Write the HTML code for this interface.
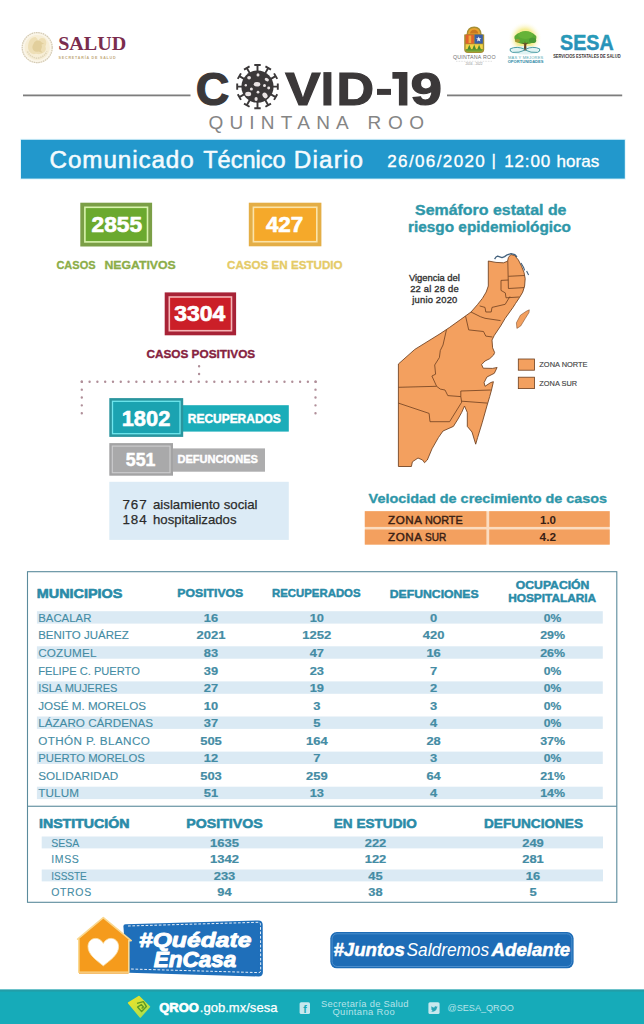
<!DOCTYPE html>
<html lang="es"><head><meta charset="utf-8"><title>COVID-19 Quintana Roo - Comunicado Técnico Diario</title>
<style>
html,body{margin:0;padding:0;background:#fff;}
body{width:644px;height:1024px;overflow:hidden;font-family:'Liberation Sans',sans-serif;}
svg{display:block;}
svg text{font-family:'Liberation Sans',sans-serif;white-space:pre;}
</style></head><body>
<svg width="644" height="1024" viewBox="0 0 644 1024">
<rect width="644" height="1024" fill="#ffffff"/>
<!-- header -->
<g id="seal"><circle cx="37.2" cy="47.6" r="15.6" fill="#faf5e8"/><circle cx="37.2" cy="47.6" r="15" fill="none" stroke="#d3cab5" stroke-width="1.2" stroke-dasharray="1.6 0.7"/><circle cx="37.2" cy="47.6" r="12.6" fill="#f7eed6"/><path d="M28.6 43 Q30 37.6 35.4 37 Q38 38.4 38 41 Q40 36.6 44.6 38.4 Q47.6 42 45.4 46.4 Q47 50 43.6 52.6 Q40 55.2 36 53.8 Q32 55 29.6 52 Q27 48 28.6 43Z" fill="#eedfb6"/><path d="M36.6 40.6 Q40 39.8 41.8 42.4 L44.2 43.6 L41.6 44.6 Q42.8 47.6 40.8 50.2 L42.6 53 L38.6 51.6 Q35.6 52.4 33.6 50.4 Q31.4 47.6 33.2 44.6 Q34 41.8 36.6 40.6Z" fill="#e2cf9c"/><path d="M27.4 51.4 Q30.4 57.6 37.2 58.2 Q44 57.6 47 51.4" fill="none" stroke="#e0d6ba" stroke-width="1.6" stroke-dasharray="1.4 0.8"/></g>
<text x="58.2" y="49.8" font-size="19.2" fill="#7a2c4e" font-weight="bold" textLength="68" lengthAdjust="spacingAndGlyphs" style="font-family:'Liberation Serif', serif">SALUD</text>
<text x="58.6" y="58.8" font-size="3.6" fill="#bfa97a" font-weight="bold" textLength="57" lengthAdjust="spacing">SECRETARÍA DE SALUD</text>
<rect x="23" y="94.5" width="167.5" height="1.8" fill="#7d7d7d"/>
<rect x="447" y="94.5" width="175.2" height="1.8" fill="#7d7d7d"/>
<!-- title -->
<text transform="translate(195.83 104.9) scale(0.9945 1)" font-size="46.8" font-weight="bold" fill="#3b3839" stroke="#3b3839" stroke-width="1.2" stroke-linejoin="miter">C</text>
<text transform="translate(285.16 104.9) scale(1.1287 1)" font-size="46.8" font-weight="bold" fill="#3b3839" stroke="#3b3839" stroke-width="1.2" stroke-linejoin="miter">V</text>
<text transform="translate(336.42 104.9) scale(1.1113 1)" font-size="46.8" font-weight="bold" fill="#3b3839" stroke="#3b3839" stroke-width="1.2" stroke-linejoin="miter">D</text>
<text transform="translate(410.39 104.9) scale(1.2105 1)" font-size="46.8" font-weight="bold" fill="#3b3839" stroke="#3b3839" stroke-width="1.2" stroke-linejoin="miter">9</text>
<rect x="323.4" y="72.1" width="8" height="33.4" fill="#3b3839"/>
<rect x="377" y="88.9" width="14" height="6" fill="#3b3839"/>
<polygon points="392.4,72.1 407.4,72.1 407.4,105.5 398.9,105.5 398.9,78.8 392.4,78.8" fill="#3b3839"/>
<g id="virus"><path d="M257.50 71.60 L257.50 65.00 M260.70 65.00 L254.30 65.00" stroke="#3b3839" stroke-width="1.9" fill="none"/><path d="M265.00 73.61 L268.21 68.04 M270.98 69.64 L265.44 66.44" stroke="#3b3839" stroke-width="1.9" fill="none"/><path d="M270.49 79.10 L275.64 76.12 M277.24 78.90 L274.04 73.35" stroke="#3b3839" stroke-width="1.9" fill="none"/><path d="M272.50 86.60 L277.80 86.60 M277.80 89.80 L277.80 83.40" stroke="#3b3839" stroke-width="1.9" fill="none"/><path d="M270.49 94.10 L275.64 97.07 M274.04 99.85 L277.24 94.30" stroke="#3b3839" stroke-width="1.9" fill="none"/><path d="M265.00 99.59 L268.21 105.16 M265.44 106.76 L270.98 103.56" stroke="#3b3839" stroke-width="1.9" fill="none"/><path d="M257.50 101.60 L257.50 108.20 M254.30 108.20 L260.70 108.20" stroke="#3b3839" stroke-width="1.9" fill="none"/><path d="M250.00 99.59 L246.79 105.16 M244.02 103.56 L249.56 106.76" stroke="#3b3839" stroke-width="1.9" fill="none"/><path d="M244.51 94.10 L239.36 97.07 M237.76 94.30 L240.96 99.85" stroke="#3b3839" stroke-width="1.9" fill="none"/><path d="M242.50 86.60 L237.20 86.60 M237.20 83.40 L237.20 89.80" stroke="#3b3839" stroke-width="1.9" fill="none"/><path d="M244.51 79.10 L239.36 76.12 M240.96 73.35 L237.76 78.90" stroke="#3b3839" stroke-width="1.9" fill="none"/><path d="M250.00 73.61 L246.79 68.04 M249.56 66.44 L244.02 69.64" stroke="#3b3839" stroke-width="1.9" fill="none"/><circle cx="257.5" cy="86.6" r="16.1" fill="#3b3839"/><ellipse cx="257" cy="84.2" rx="3.3" ry="2.3" fill="#e9e3e3" transform="rotate(0 257 84.2)"/><ellipse cx="249.1" cy="77.7" rx="1.9" ry="1.7" fill="#e9e3e3" transform="rotate(0 249.1 77.7)"/><ellipse cx="258" cy="74.9" rx="1.5" ry="1.6" fill="#e9e3e3" transform="rotate(0 258 74.9)"/><ellipse cx="266.8" cy="79.6" rx="2.2" ry="1.6" fill="#e9e3e3" transform="rotate(25 266.8 79.6)"/><ellipse cx="245.8" cy="85.2" rx="1.2" ry="1.3" fill="#e9e3e3" transform="rotate(0 245.8 85.2)"/><ellipse cx="251.4" cy="88.9" rx="1.5" ry="1.5" fill="#e9e3e3" transform="rotate(0 251.4 88.9)"/><ellipse cx="264.5" cy="85.6" rx="1.5" ry="1.5" fill="#e9e3e3" transform="rotate(0 264.5 85.6)"/><ellipse cx="268.7" cy="88" rx="1.5" ry="1.4" fill="#e9e3e3" transform="rotate(0 268.7 88)"/><ellipse cx="258" cy="92.2" rx="1.4" ry="1.4" fill="#e9e3e3" transform="rotate(0 258 92.2)"/><ellipse cx="248.2" cy="94" rx="3" ry="2.2" fill="#e9e3e3" transform="rotate(0 248.2 94)"/><ellipse cx="265" cy="95.4" rx="2.4" ry="3" fill="#e9e3e3" transform="rotate(-30 265 95.4)"/><ellipse cx="256.1" cy="99.1" rx="1.6" ry="2" fill="#e9e3e3" transform="rotate(0 256.1 99.1)"/></g>
<text x="208.4" y="128.5" font-size="19" fill="#858585" textLength="140.4" lengthAdjust="spacing">QUINTANA</text>
<text x="367.6" y="128.5" font-size="19" fill="#858585" textLength="56.4" lengthAdjust="spacing">ROO</text>
<!-- banner -->
<rect x="20" y="138.8" width="605.8" height="40.8" fill="#e2f6fc"/>
<rect x="21" y="139.8" width="603.8" height="38.8" fill="#2298cc"/>
<text x="49.6" y="167.9" font-size="24.2" fill="#f4fbfe" textLength="144" lengthAdjust="spacing" stroke="#f4fbfe" stroke-width="0.55" stroke-linejoin="round">Comunicado</text>
<text x="203.2" y="167.9" font-size="24.2" fill="#f4fbfe" textLength="82.5" lengthAdjust="spacingAndGlyphs" stroke="#f4fbfe" stroke-width="0.55" stroke-linejoin="round">Técnico</text>
<text x="293.8" y="167.9" font-size="24.2" fill="#f4fbfe" textLength="69.2" lengthAdjust="spacing" stroke="#f4fbfe" stroke-width="0.55" stroke-linejoin="round">Diario</text>
<text x="387.2" y="166.5" font-size="17" fill="#ffffff" textLength="97.6" lengthAdjust="spacing" stroke="#fff" stroke-width="0.35" stroke-linejoin="round">26/06/2020</text>
<text x="491.6" y="166" font-size="17" fill="#ffffff" stroke="#fff" stroke-width="0.3" stroke-linejoin="round">|</text>
<text x="504.2" y="166.5" font-size="17" fill="#ffffff" textLength="46" lengthAdjust="spacing" stroke="#fff" stroke-width="0.35" stroke-linejoin="round">12:00</text>
<text x="556.6" y="166.5" font-size="17" fill="#ffffff" textLength="42.6" lengthAdjust="spacing" stroke="#fff" stroke-width="0.35" stroke-linejoin="round">horas</text>
<!-- stats -->
<rect x="80.3" y="202.7" width="71.8" height="43.8" fill="#7b9f47"/>
<rect x="84.89999999999999" y="207.29999999999998" width="62.6" height="34.6" fill="#6ba92f" stroke="#d9f3ad" stroke-opacity="1" stroke-width="1.6"/>
<text x="116.8" y="231.5" font-size="22" fill="#ffffff" font-weight="bold" text-anchor="middle" textLength="50.4" lengthAdjust="spacingAndGlyphs" stroke="#fff" stroke-width="0.7" stroke-linejoin="round">2855</text>
<text x="56.4" y="268.6" font-size="11.6" fill="#8cad48" font-weight="bold" textLength="39.2" lengthAdjust="spacingAndGlyphs" stroke="#8cad48" stroke-width="0.3" stroke-linejoin="round">CASOS</text>
<text x="104.4" y="268.6" font-size="11.6" fill="#8cad48" font-weight="bold" textLength="71.4" lengthAdjust="spacingAndGlyphs" stroke="#8cad48" stroke-width="0.3" stroke-linejoin="round">NEGATIVOS</text>
<rect x="248.8" y="202.7" width="72.6" height="43.6" fill="#e4ae46"/>
<rect x="253.4" y="207.29999999999998" width="63.4" height="34.4" fill="#f5a92a" stroke="#fbe3a8" stroke-opacity="1" stroke-width="1.6"/>
<text x="284.6" y="231.5" font-size="22" fill="#ffffff" font-weight="bold" text-anchor="middle" textLength="37.4" lengthAdjust="spacingAndGlyphs" stroke="#fff" stroke-width="0.7" stroke-linejoin="round">427</text>
<text x="227" y="268.8" font-size="11.4" fill="#e5cb68" font-weight="bold" textLength="115.6" lengthAdjust="spacingAndGlyphs" stroke="#e5cb68" stroke-width="0.3" stroke-linejoin="round">CASOS EN ESTUDIO</text>
<rect x="164.7" y="292.4" width="71.4" height="42.9" fill="#a82337"/>
<rect x="169.29999999999998" y="297.0" width="62.2" height="33.7" fill="#cb1f28" stroke="#f6b4b6" stroke-opacity="1" stroke-width="1.6"/>
<text x="199.8" y="321" font-size="22.5" fill="#ffffff" font-weight="bold" text-anchor="middle" textLength="51" lengthAdjust="spacingAndGlyphs" stroke="#fff" stroke-width="0.7" stroke-linejoin="round">3304</text>
<text x="146.4" y="358.2" font-size="11.8" fill="#86233f" font-weight="bold" textLength="108.8" lengthAdjust="spacingAndGlyphs" stroke="#86233f" stroke-width="0.35" stroke-linejoin="round">CASOS POSITIVOS</text>
<g stroke="#b08f99" stroke-width="2.4" stroke-linecap="round" fill="none"><path d="M81.8 381.8 H315.7" stroke-dasharray="0 7.796"/><path d="M81.8 381.8 V414" stroke-dasharray="0 7.85"/><path d="M315.5 381.8 V414" stroke-dasharray="0 7.85"/><path d="M199.1 366.2 V374.6" stroke-dasharray="0 7.8"/></g>
<rect x="183" y="405.2" width="105.8" height="26.4" fill="#1badb9"/>
<rect x="109.3" y="398.1" width="73.9" height="38.8" fill="#2a959e"/>
<rect x="112.5" y="401.3" width="67.5" height="32.4" fill="#1ba3b1" stroke="#6fe6ee" stroke-opacity="1" stroke-width="1.3"/>
<text x="146" y="426" font-size="22.5" fill="#ffffff" font-weight="bold" text-anchor="middle" textLength="48.6" lengthAdjust="spacingAndGlyphs" stroke="#fff" stroke-width="0.6" stroke-linejoin="round">1802</text>
<text x="187.8" y="423" font-size="12.4" fill="#ffffff" font-weight="bold" textLength="93" lengthAdjust="spacingAndGlyphs" stroke="#ffffff" stroke-width="0.45" stroke-linejoin="round">RECUPERADOS</text>
<rect x="173" y="448.4" width="92" height="23.3" fill="#adadae"/>
<rect x="109.3" y="443.1" width="63.7" height="32.6" fill="#a3a3a4"/>
<rect x="112.3" y="446.1" width="57.7" height="26.6" fill="#a9a9aa" stroke="#cbcbcc" stroke-opacity="1" stroke-width="1.2"/>
<text x="140.6" y="465.8" font-size="18" fill="#ffffff" font-weight="bold" text-anchor="middle" textLength="29.6" lengthAdjust="spacingAndGlyphs" stroke="#fff" stroke-width="0.5" stroke-linejoin="round">551</text>
<text x="177.4" y="462.7" font-size="10.8" fill="#ffffff" font-weight="bold" textLength="80.6" lengthAdjust="spacingAndGlyphs" stroke="#ffffff" stroke-width="0.4" stroke-linejoin="round">DEFUNCIONES</text>
<rect x="109.3" y="481.8" width="179.5" height="58.1" fill="#dcebf6"/>
<text x="122.6" y="508.8" font-size="13.4" fill="#2b2b2b" textLength="24" lengthAdjust="spacing" stroke="#2b2b2b" stroke-width="0.25" stroke-linejoin="round">767</text>
<text x="153" y="508.8" font-size="13.4" fill="#2b2b2b" textLength="104.5" lengthAdjust="spacingAndGlyphs" stroke="#2b2b2b" stroke-width="0.25" stroke-linejoin="round">aislamiento social</text>
<text x="122.6" y="524.3" font-size="13.4" fill="#2b2b2b" textLength="24" lengthAdjust="spacing" stroke="#2b2b2b" stroke-width="0.25" stroke-linejoin="round">184</text>
<text x="153" y="524.3" font-size="13.4" fill="#2b2b2b" textLength="83.5" lengthAdjust="spacingAndGlyphs" stroke="#2b2b2b" stroke-width="0.25" stroke-linejoin="round">hospitalizados</text>
<!-- semaforo -->
<text x="415" y="214.6" font-size="14.2" fill="#2f97a9" font-weight="bold" textLength="151.5" lengthAdjust="spacingAndGlyphs" stroke="#2f97a9" stroke-width="0.35" stroke-linejoin="round">Semáforo estatal de</text>
<text x="408" y="231.6" font-size="14.2" fill="#2f97a9" font-weight="bold" textLength="163" lengthAdjust="spacingAndGlyphs" stroke="#2f97a9" stroke-width="0.35" stroke-linejoin="round">riesgo epidemiológico</text>
<text x="434.4" y="281" font-size="9.4" fill="#333333" text-anchor="middle" textLength="51" lengthAdjust="spacingAndGlyphs" stroke="#333333" stroke-width="0.35" stroke-linejoin="round">Vigencia del</text>
<text x="434.4" y="292.3" font-size="9.4" fill="#333333" text-anchor="middle" textLength="48.5" lengthAdjust="spacing" stroke="#333333" stroke-width="0.35" stroke-linejoin="round">22 al 28 de</text>
<text x="434.8" y="303.2" font-size="9.4" fill="#333333" text-anchor="middle" textLength="45" lengthAdjust="spacing" stroke="#333333" stroke-width="0.35" stroke-linejoin="round">junio 2020</text>
<!-- map -->
<path d="M488.3 261 L496 262.4 L503.5 262.8 L507.6 261.2 L508.4 257.5 L510.9 254.5 L514.7 255.6 L518.4 260 L521.5 266.1 L524 272.4 L525.2 278.6 L524.6 286 L522.7 292.2 L519.6 297.4 L515.5 303.5 L513 307.4 L509 313 L505.2 318.3 L500.6 326 L494.3 335.4 L492 340 L492.6 347.8 L494.6 352.5 L493.6 355 L489.7 358.7 L485 361 L481.6 364.6 L483.2 368.2 L492.5 368.4 L497.1 367.5 L494.3 373.3 L486.9 377 L484.1 382.6 L485 386.3 L490.6 382.6 L493.4 381.7 L491.5 390 L489.7 396.6 L486.9 406 L482.2 422.7 L477.6 437.6 L475.7 444.2 L472 432 L467.3 426.4 L467.3 412.4 L464.5 406 L461.7 412.4 L458 419 L453.4 426.4 L443 431 L438.4 437.6 L432 448.8 L427.3 460 L424.5 462.7 L422.6 460 L418 458 L412.4 461.8 L411.4 466.5 L398.4 466.5 L398.4 364 L414.8 349.4 L440 333.8 L449.3 327.6 L460.2 319.8 L471 312 L477.4 304.7 L482.4 298.4 L486.2 292 L488.3 286Z" fill="#f3a05f" stroke="#6d3f1f" stroke-width="0.85" stroke-linejoin="round"/>
<path d="M529.3 309.8 L526.2 311.3 L520.4 315.2 L516.4 322.8 L516.9 328.4 L520.7 326 L525.4 318.3 L529 312.5Z" fill="#f3a05f" stroke="#6d3f1f" stroke-width="0.5"/>
<path d="M494.6 259.2 L496 257 L497.6 256.2 L502 257.6 L504.6 256.6 L507.2 254.8 L511 253.7 L514.9 254.6 L517 257" fill="none" stroke="#41607c" stroke-width="1.3" stroke-linejoin="round"/>
<path d="M521 263 L523.6 267.6 L524.6 270.4 M526.6 271 L528.6 275" fill="none" stroke="#41607c" stroke-width="1.1"/>
<path d="M507.8 261.2 L508.4 288.5 M508.4 276.3 L524.6 275.5 M508.4 280 L501 280.4 L501 290.4 L505.3 292.9 L506 297.8 M508.4 288.5 L524.2 287.6 M506 297.8 L519.4 297 M509.9 296.5 L505.2 304.3 L492 307.4 L491.2 312 L485.8 312 L485 307.4 L479.6 305.9 M471 312 L480.4 316.7 L485 318.3 L500.6 320.6 M465.6 316.2 L468.7 329.9 L483.5 331.5 L485.8 336.1 L492.4 337 M446.4 330 L443 345 L440.3 350.5 L439.4 357.5 L434.7 365 L435.6 374.2 L431.9 376 L436.6 386.3 L440.3 389.1 L445 390 L447.8 395.6 L460.8 396.6 L460.8 391 L490.8 390 M398.4 387.3 L436.6 386.3 M398.4 403.1 L429.1 413.4 L430 421.7 L449.6 421.7 L461.7 402.2 L460.8 396.6 M461.7 401.2 L487.4 403.1" fill="none" stroke="#6d3f1f" stroke-width="0.8" stroke-linejoin="round"/>
<rect x="518.3" y="359" width="16.2" height="11.2" fill="#f3a05f" stroke="#6d3f1f" stroke-width="0.8"/>
<rect x="518.3" y="377.2" width="16.2" height="11.4" fill="#f3a05f" stroke="#6d3f1f" stroke-width="0.8"/>
<text x="539.3" y="367.4" font-size="7.6" fill="#444444" textLength="48.3" lengthAdjust="spacingAndGlyphs" stroke="#444" stroke-width="0.15" stroke-linejoin="round">ZONA NORTE</text>
<text x="539.3" y="385.6" font-size="7.6" fill="#444444" textLength="37.8" lengthAdjust="spacingAndGlyphs" stroke="#444" stroke-width="0.15" stroke-linejoin="round">ZONA SUR</text>
<!-- velocidad -->
<text x="368.6" y="502.8" font-size="13.6" fill="#2f97a9" font-weight="bold" textLength="238.5" lengthAdjust="spacingAndGlyphs" stroke="#2f97a9" stroke-width="0.35" stroke-linejoin="round">Velocidad de crecimiento de casos</text>
<rect x="364.8" y="511.2" width="244.9" height="33.4" fill="#fbdcc0"/>
<rect x="364.8" y="511.2" width="121.6" height="15.7" fill="#f3a05f"/>
<rect x="489.2" y="511.2" width="120.5" height="15.7" fill="#f3a05f"/>
<rect x="364.8" y="529.5" width="121.6" height="15.1" fill="#f3a05f"/>
<rect x="489.2" y="529.5" width="120.5" height="15.1" fill="#f3a05f"/>
<text x="388" y="523.5" font-size="11.6" fill="#3a2014" textLength="34" lengthAdjust="spacing" stroke="#3a2014" stroke-width="0.45" stroke-linejoin="round">ZONA</text>
<text x="425" y="523.5" font-size="11.6" fill="#3a2014" textLength="37.6" lengthAdjust="spacingAndGlyphs" stroke="#3a2014" stroke-width="0.45" stroke-linejoin="round">NORTE</text>
<text x="388" y="541.4" font-size="11.6" fill="#3a2014" textLength="34" lengthAdjust="spacing" stroke="#3a2014" stroke-width="0.45" stroke-linejoin="round">ZONA</text>
<text x="425" y="541.4" font-size="11.6" fill="#3a2014" textLength="21.2" lengthAdjust="spacingAndGlyphs" stroke="#3a2014" stroke-width="0.45" stroke-linejoin="round">SUR</text>
<text x="548" y="523.6" font-size="10.8" fill="#3a2014" font-weight="bold" text-anchor="middle" textLength="16" lengthAdjust="spacingAndGlyphs">1.0</text>
<text x="547.8" y="541.3" font-size="10.8" fill="#3a2014" font-weight="bold" text-anchor="middle" textLength="16.4" lengthAdjust="spacingAndGlyphs">4.2</text>
<!-- tables -->
<rect x="27.5" y="571.7" width="589.3" height="330.6" fill="none" stroke="#5b8b9c" stroke-width="1.1"/>
<rect x="27.5" y="805.7" width="589.3" height="1.1" fill="#5b8b9c"/>
<text x="36.8" y="598.2" font-size="13.2" fill="#2a8ba8" font-weight="bold" textLength="85.5" lengthAdjust="spacingAndGlyphs" stroke="#2a8ba8" stroke-width="0.6" stroke-linejoin="round">MUNICIPIOS</text>
<text x="210.3" y="597.3" font-size="11" fill="#2a8ba8" font-weight="bold" text-anchor="middle" textLength="66" lengthAdjust="spacingAndGlyphs" stroke="#2a8ba8" stroke-width="0.45" stroke-linejoin="round">POSITIVOS</text>
<text x="316.3" y="597.3" font-size="11" fill="#2a8ba8" font-weight="bold" text-anchor="middle" textLength="88.5" lengthAdjust="spacingAndGlyphs" stroke="#2a8ba8" stroke-width="0.45" stroke-linejoin="round">RECUPERADOS</text>
<text x="434.2" y="597.8" font-size="11" fill="#2a8ba8" font-weight="bold" text-anchor="middle" textLength="89" lengthAdjust="spacingAndGlyphs" stroke="#2a8ba8" stroke-width="0.45" stroke-linejoin="round">DEFUNCIONES</text>
<text x="552.6" y="588.7" font-size="10.6" fill="#2a8ba8" font-weight="bold" text-anchor="middle" textLength="73.5" lengthAdjust="spacingAndGlyphs" stroke="#2a8ba8" stroke-width="0.45" stroke-linejoin="round">OCUPACIÓN</text>
<text x="552.2" y="601.7" font-size="10.6" fill="#2a8ba8" font-weight="bold" text-anchor="middle" textLength="88" lengthAdjust="spacingAndGlyphs" stroke="#2a8ba8" stroke-width="0.45" stroke-linejoin="round">HOSPITALARIA</text>
<rect x="36.9" y="611.2" width="565.9" height="12.4" fill="#dbeaf4"/>
<text x="38.2" y="621.9" font-size="11.7" fill="#448ca4" textLength="53.2" lengthAdjust="spacingAndGlyphs" stroke="#448ca4" stroke-width="0.12" stroke-linejoin="round">BACALAR</text>
<text x="211" y="621.9" font-size="11.3" fill="#448ca4" font-weight="bold" text-anchor="middle" textLength="14.3" lengthAdjust="spacingAndGlyphs" stroke="#448ca4" stroke-width="0.2" stroke-linejoin="round">16</text>
<text x="316.8" y="621.9" font-size="11.3" fill="#448ca4" font-weight="bold" text-anchor="middle" textLength="14.3" lengthAdjust="spacingAndGlyphs" stroke="#448ca4" stroke-width="0.2" stroke-linejoin="round">10</text>
<text x="433.6" y="621.9" font-size="11.3" fill="#448ca4" font-weight="bold" text-anchor="middle" textLength="7.2" lengthAdjust="spacingAndGlyphs" stroke="#448ca4" stroke-width="0.2" stroke-linejoin="round">0</text>
<text x="552.6" y="621.9" font-size="11.3" fill="#448ca4" font-weight="bold" text-anchor="middle" textLength="17.5" lengthAdjust="spacingAndGlyphs" stroke="#448ca4" stroke-width="0.2" stroke-linejoin="round">0%</text>
<text x="38.2" y="639.4" font-size="11.7" fill="#448ca4" textLength="90.5" lengthAdjust="spacingAndGlyphs" stroke="#448ca4" stroke-width="0.12" stroke-linejoin="round">BENITO JUÁREZ</text>
<text x="211" y="639.4" font-size="11.3" fill="#448ca4" font-weight="bold" text-anchor="middle" textLength="29.0" lengthAdjust="spacingAndGlyphs" stroke="#448ca4" stroke-width="0.2" stroke-linejoin="round">2021</text>
<text x="316.8" y="639.4" font-size="11.3" fill="#448ca4" font-weight="bold" text-anchor="middle" textLength="29.0" lengthAdjust="spacingAndGlyphs" stroke="#448ca4" stroke-width="0.2" stroke-linejoin="round">1252</text>
<text x="433.6" y="639.4" font-size="11.3" fill="#448ca4" font-weight="bold" text-anchor="middle" textLength="21.6" lengthAdjust="spacingAndGlyphs" stroke="#448ca4" stroke-width="0.2" stroke-linejoin="round">420</text>
<text x="552.6" y="639.4" font-size="11.3" fill="#448ca4" font-weight="bold" text-anchor="middle" textLength="24.9" lengthAdjust="spacingAndGlyphs" stroke="#448ca4" stroke-width="0.2" stroke-linejoin="round">29%</text>
<rect x="36.9" y="646.3" width="565.9" height="12.4" fill="#dbeaf4"/>
<text x="38.2" y="657.0" font-size="11.7" fill="#448ca4" textLength="58.2" lengthAdjust="spacing" stroke="#448ca4" stroke-width="0.12" stroke-linejoin="round">COZUMEL</text>
<text x="211" y="657.0" font-size="11.3" fill="#448ca4" font-weight="bold" text-anchor="middle" textLength="14.3" lengthAdjust="spacingAndGlyphs" stroke="#448ca4" stroke-width="0.2" stroke-linejoin="round">83</text>
<text x="316.8" y="657.0" font-size="11.3" fill="#448ca4" font-weight="bold" text-anchor="middle" textLength="14.3" lengthAdjust="spacingAndGlyphs" stroke="#448ca4" stroke-width="0.2" stroke-linejoin="round">47</text>
<text x="433.6" y="657.0" font-size="11.3" fill="#448ca4" font-weight="bold" text-anchor="middle" textLength="14.3" lengthAdjust="spacingAndGlyphs" stroke="#448ca4" stroke-width="0.2" stroke-linejoin="round">16</text>
<text x="552.6" y="657.0" font-size="11.3" fill="#448ca4" font-weight="bold" text-anchor="middle" textLength="24.9" lengthAdjust="spacingAndGlyphs" stroke="#448ca4" stroke-width="0.2" stroke-linejoin="round">26%</text>
<text x="38.2" y="674.5" font-size="11.7" fill="#448ca4" textLength="101.7" lengthAdjust="spacingAndGlyphs" stroke="#448ca4" stroke-width="0.12" stroke-linejoin="round">FELIPE C. PUERTO</text>
<text x="211" y="674.5" font-size="11.3" fill="#448ca4" font-weight="bold" text-anchor="middle" textLength="14.3" lengthAdjust="spacingAndGlyphs" stroke="#448ca4" stroke-width="0.2" stroke-linejoin="round">39</text>
<text x="316.8" y="674.5" font-size="11.3" fill="#448ca4" font-weight="bold" text-anchor="middle" textLength="14.3" lengthAdjust="spacingAndGlyphs" stroke="#448ca4" stroke-width="0.2" stroke-linejoin="round">23</text>
<text x="433.6" y="674.5" font-size="11.3" fill="#448ca4" font-weight="bold" text-anchor="middle" textLength="7.2" lengthAdjust="spacingAndGlyphs" stroke="#448ca4" stroke-width="0.2" stroke-linejoin="round">7</text>
<text x="552.6" y="674.5" font-size="11.3" fill="#448ca4" font-weight="bold" text-anchor="middle" textLength="17.5" lengthAdjust="spacingAndGlyphs" stroke="#448ca4" stroke-width="0.2" stroke-linejoin="round">0%</text>
<rect x="36.9" y="681.4" width="565.9" height="12.4" fill="#dbeaf4"/>
<text x="38.2" y="692.1" font-size="11.7" fill="#448ca4" textLength="79.3" lengthAdjust="spacingAndGlyphs" stroke="#448ca4" stroke-width="0.12" stroke-linejoin="round">ISLA MUJERES</text>
<text x="211" y="692.1" font-size="11.3" fill="#448ca4" font-weight="bold" text-anchor="middle" textLength="14.3" lengthAdjust="spacingAndGlyphs" stroke="#448ca4" stroke-width="0.2" stroke-linejoin="round">27</text>
<text x="316.8" y="692.1" font-size="11.3" fill="#448ca4" font-weight="bold" text-anchor="middle" textLength="14.3" lengthAdjust="spacingAndGlyphs" stroke="#448ca4" stroke-width="0.2" stroke-linejoin="round">19</text>
<text x="433.6" y="692.1" font-size="11.3" fill="#448ca4" font-weight="bold" text-anchor="middle" textLength="7.2" lengthAdjust="spacingAndGlyphs" stroke="#448ca4" stroke-width="0.2" stroke-linejoin="round">2</text>
<text x="552.6" y="692.1" font-size="11.3" fill="#448ca4" font-weight="bold" text-anchor="middle" textLength="17.5" lengthAdjust="spacingAndGlyphs" stroke="#448ca4" stroke-width="0.2" stroke-linejoin="round">0%</text>
<text x="38.2" y="709.6" font-size="11.7" fill="#448ca4" textLength="107.9" lengthAdjust="spacingAndGlyphs" stroke="#448ca4" stroke-width="0.12" stroke-linejoin="round">JOSÉ M. MORELOS</text>
<text x="211" y="709.6" font-size="11.3" fill="#448ca4" font-weight="bold" text-anchor="middle" textLength="14.3" lengthAdjust="spacingAndGlyphs" stroke="#448ca4" stroke-width="0.2" stroke-linejoin="round">10</text>
<text x="316.8" y="709.6" font-size="11.3" fill="#448ca4" font-weight="bold" text-anchor="middle" textLength="7.2" lengthAdjust="spacingAndGlyphs" stroke="#448ca4" stroke-width="0.2" stroke-linejoin="round">3</text>
<text x="433.6" y="709.6" font-size="11.3" fill="#448ca4" font-weight="bold" text-anchor="middle" textLength="7.2" lengthAdjust="spacingAndGlyphs" stroke="#448ca4" stroke-width="0.2" stroke-linejoin="round">3</text>
<text x="552.6" y="709.6" font-size="11.3" fill="#448ca4" font-weight="bold" text-anchor="middle" textLength="17.5" lengthAdjust="spacingAndGlyphs" stroke="#448ca4" stroke-width="0.2" stroke-linejoin="round">0%</text>
<rect x="36.9" y="716.5" width="565.9" height="12.4" fill="#dbeaf4"/>
<text x="38.2" y="727.2" font-size="11.7" fill="#448ca4" textLength="114.8" lengthAdjust="spacingAndGlyphs" stroke="#448ca4" stroke-width="0.12" stroke-linejoin="round">LÁZARO CÁRDENAS</text>
<text x="211" y="727.2" font-size="11.3" fill="#448ca4" font-weight="bold" text-anchor="middle" textLength="14.3" lengthAdjust="spacingAndGlyphs" stroke="#448ca4" stroke-width="0.2" stroke-linejoin="round">37</text>
<text x="316.8" y="727.2" font-size="11.3" fill="#448ca4" font-weight="bold" text-anchor="middle" textLength="7.2" lengthAdjust="spacingAndGlyphs" stroke="#448ca4" stroke-width="0.2" stroke-linejoin="round">5</text>
<text x="433.6" y="727.2" font-size="11.3" fill="#448ca4" font-weight="bold" text-anchor="middle" textLength="7.2" lengthAdjust="spacingAndGlyphs" stroke="#448ca4" stroke-width="0.2" stroke-linejoin="round">4</text>
<text x="552.6" y="727.2" font-size="11.3" fill="#448ca4" font-weight="bold" text-anchor="middle" textLength="17.5" lengthAdjust="spacingAndGlyphs" stroke="#448ca4" stroke-width="0.2" stroke-linejoin="round">0%</text>
<text x="38.2" y="744.8" font-size="11.7" fill="#448ca4" textLength="111.6" lengthAdjust="spacing" stroke="#448ca4" stroke-width="0.12" stroke-linejoin="round">OTHÓN P. BLANCO</text>
<text x="211" y="744.8" font-size="11.3" fill="#448ca4" font-weight="bold" text-anchor="middle" textLength="21.6" lengthAdjust="spacingAndGlyphs" stroke="#448ca4" stroke-width="0.2" stroke-linejoin="round">505</text>
<text x="316.8" y="744.8" font-size="11.3" fill="#448ca4" font-weight="bold" text-anchor="middle" textLength="21.6" lengthAdjust="spacingAndGlyphs" stroke="#448ca4" stroke-width="0.2" stroke-linejoin="round">164</text>
<text x="433.6" y="744.8" font-size="11.3" fill="#448ca4" font-weight="bold" text-anchor="middle" textLength="14.3" lengthAdjust="spacingAndGlyphs" stroke="#448ca4" stroke-width="0.2" stroke-linejoin="round">28</text>
<text x="552.6" y="744.8" font-size="11.3" fill="#448ca4" font-weight="bold" text-anchor="middle" textLength="24.9" lengthAdjust="spacingAndGlyphs" stroke="#448ca4" stroke-width="0.2" stroke-linejoin="round">37%</text>
<rect x="36.9" y="751.6" width="565.9" height="12.4" fill="#dbeaf4"/>
<text x="38.2" y="762.3" font-size="11.7" fill="#448ca4" textLength="106.6" lengthAdjust="spacingAndGlyphs" stroke="#448ca4" stroke-width="0.12" stroke-linejoin="round">PUERTO MORELOS</text>
<text x="211" y="762.3" font-size="11.3" fill="#448ca4" font-weight="bold" text-anchor="middle" textLength="14.3" lengthAdjust="spacingAndGlyphs" stroke="#448ca4" stroke-width="0.2" stroke-linejoin="round">12</text>
<text x="316.8" y="762.3" font-size="11.3" fill="#448ca4" font-weight="bold" text-anchor="middle" textLength="7.2" lengthAdjust="spacingAndGlyphs" stroke="#448ca4" stroke-width="0.2" stroke-linejoin="round">7</text>
<text x="433.6" y="762.3" font-size="11.3" fill="#448ca4" font-weight="bold" text-anchor="middle" textLength="7.2" lengthAdjust="spacingAndGlyphs" stroke="#448ca4" stroke-width="0.2" stroke-linejoin="round">3</text>
<text x="552.6" y="762.3" font-size="11.3" fill="#448ca4" font-weight="bold" text-anchor="middle" textLength="17.5" lengthAdjust="spacingAndGlyphs" stroke="#448ca4" stroke-width="0.2" stroke-linejoin="round">0%</text>
<text x="38.2" y="779.9" font-size="11.7" fill="#448ca4" textLength="80.0" lengthAdjust="spacing" stroke="#448ca4" stroke-width="0.12" stroke-linejoin="round">SOLIDARIDAD</text>
<text x="211" y="779.9" font-size="11.3" fill="#448ca4" font-weight="bold" text-anchor="middle" textLength="21.6" lengthAdjust="spacingAndGlyphs" stroke="#448ca4" stroke-width="0.2" stroke-linejoin="round">503</text>
<text x="316.8" y="779.9" font-size="11.3" fill="#448ca4" font-weight="bold" text-anchor="middle" textLength="21.6" lengthAdjust="spacingAndGlyphs" stroke="#448ca4" stroke-width="0.2" stroke-linejoin="round">259</text>
<text x="433.6" y="779.9" font-size="11.3" fill="#448ca4" font-weight="bold" text-anchor="middle" textLength="14.3" lengthAdjust="spacingAndGlyphs" stroke="#448ca4" stroke-width="0.2" stroke-linejoin="round">64</text>
<text x="552.6" y="779.9" font-size="11.3" fill="#448ca4" font-weight="bold" text-anchor="middle" textLength="24.9" lengthAdjust="spacingAndGlyphs" stroke="#448ca4" stroke-width="0.2" stroke-linejoin="round">21%</text>
<rect x="36.9" y="786.7" width="565.9" height="12.4" fill="#dbeaf4"/>
<text x="38.2" y="797.4" font-size="11.7" fill="#448ca4" textLength="40.8" lengthAdjust="spacing" stroke="#448ca4" stroke-width="0.12" stroke-linejoin="round">TULUM</text>
<text x="211" y="797.4" font-size="11.3" fill="#448ca4" font-weight="bold" text-anchor="middle" textLength="14.3" lengthAdjust="spacingAndGlyphs" stroke="#448ca4" stroke-width="0.2" stroke-linejoin="round">51</text>
<text x="316.8" y="797.4" font-size="11.3" fill="#448ca4" font-weight="bold" text-anchor="middle" textLength="14.3" lengthAdjust="spacingAndGlyphs" stroke="#448ca4" stroke-width="0.2" stroke-linejoin="round">13</text>
<text x="433.6" y="797.4" font-size="11.3" fill="#448ca4" font-weight="bold" text-anchor="middle" textLength="7.2" lengthAdjust="spacingAndGlyphs" stroke="#448ca4" stroke-width="0.2" stroke-linejoin="round">4</text>
<text x="552.6" y="797.4" font-size="11.3" fill="#448ca4" font-weight="bold" text-anchor="middle" textLength="24.9" lengthAdjust="spacingAndGlyphs" stroke="#448ca4" stroke-width="0.2" stroke-linejoin="round">14%</text>
<text x="39" y="828.3" font-size="12.6" fill="#2a8ba8" font-weight="bold" textLength="90.5" lengthAdjust="spacingAndGlyphs" stroke="#2a8ba8" stroke-width="0.6" stroke-linejoin="round">INSTITUCIÓN</text>
<text x="224.5" y="828.3" font-size="12.4" fill="#2a8ba8" font-weight="bold" text-anchor="middle" textLength="76.5" lengthAdjust="spacingAndGlyphs" stroke="#2a8ba8" stroke-width="0.5" stroke-linejoin="round">POSITIVOS</text>
<text x="375.3" y="828.3" font-size="12.4" fill="#2a8ba8" font-weight="bold" text-anchor="middle" textLength="83" lengthAdjust="spacingAndGlyphs" stroke="#2a8ba8" stroke-width="0.5" stroke-linejoin="round">EN ESTUDIO</text>
<text x="533.5" y="828.3" font-size="12.4" fill="#2a8ba8" font-weight="bold" text-anchor="middle" textLength="99" lengthAdjust="spacingAndGlyphs" stroke="#2a8ba8" stroke-width="0.5" stroke-linejoin="round">DEFUNCIONES</text>
<rect x="41.7" y="836.5" width="561.3" height="11.9" fill="#dbeaf4"/>
<text x="51.2" y="846.7" font-size="10.5" fill="#448ca4" textLength="28.0" lengthAdjust="spacingAndGlyphs" stroke="#448ca4" stroke-width="0.1" stroke-linejoin="round">SESA</text>
<text x="224.5" y="846.7" font-size="11" fill="#448ca4" font-weight="bold" text-anchor="middle" textLength="29.0" lengthAdjust="spacingAndGlyphs" stroke="#448ca4" stroke-width="0.2" stroke-linejoin="round">1635</text>
<text x="375.5" y="846.7" font-size="11" fill="#448ca4" font-weight="bold" text-anchor="middle" textLength="21.6" lengthAdjust="spacingAndGlyphs" stroke="#448ca4" stroke-width="0.2" stroke-linejoin="round">222</text>
<text x="533" y="846.7" font-size="11" fill="#448ca4" font-weight="bold" text-anchor="middle" textLength="21.6" lengthAdjust="spacingAndGlyphs" stroke="#448ca4" stroke-width="0.2" stroke-linejoin="round">249</text>
<text x="51.2" y="863.2" font-size="10.5" fill="#448ca4" textLength="27.6" lengthAdjust="spacing" stroke="#448ca4" stroke-width="0.1" stroke-linejoin="round">IMSS</text>
<text x="224.5" y="863.2" font-size="11" fill="#448ca4" font-weight="bold" text-anchor="middle" textLength="29.0" lengthAdjust="spacingAndGlyphs" stroke="#448ca4" stroke-width="0.2" stroke-linejoin="round">1342</text>
<text x="375.5" y="863.2" font-size="11" fill="#448ca4" font-weight="bold" text-anchor="middle" textLength="21.6" lengthAdjust="spacingAndGlyphs" stroke="#448ca4" stroke-width="0.2" stroke-linejoin="round">122</text>
<text x="533" y="863.2" font-size="11" fill="#448ca4" font-weight="bold" text-anchor="middle" textLength="21.6" lengthAdjust="spacingAndGlyphs" stroke="#448ca4" stroke-width="0.2" stroke-linejoin="round">281</text>
<rect x="41.7" y="869.5" width="561.3" height="11.9" fill="#dbeaf4"/>
<text x="51.2" y="879.7" font-size="10.5" fill="#448ca4" textLength="35.6" lengthAdjust="spacingAndGlyphs" stroke="#448ca4" stroke-width="0.1" stroke-linejoin="round">ISSSTE</text>
<text x="224.5" y="879.7" font-size="11" fill="#448ca4" font-weight="bold" text-anchor="middle" textLength="21.6" lengthAdjust="spacingAndGlyphs" stroke="#448ca4" stroke-width="0.2" stroke-linejoin="round">233</text>
<text x="375.5" y="879.7" font-size="11" fill="#448ca4" font-weight="bold" text-anchor="middle" textLength="14.3" lengthAdjust="spacingAndGlyphs" stroke="#448ca4" stroke-width="0.2" stroke-linejoin="round">45</text>
<text x="533" y="879.7" font-size="11" fill="#448ca4" font-weight="bold" text-anchor="middle" textLength="14.3" lengthAdjust="spacingAndGlyphs" stroke="#448ca4" stroke-width="0.2" stroke-linejoin="round">16</text>
<text x="51.2" y="896.2" font-size="10.5" fill="#448ca4" textLength="40.0" lengthAdjust="spacing" stroke="#448ca4" stroke-width="0.1" stroke-linejoin="round">OTROS</text>
<text x="224.5" y="896.2" font-size="11" fill="#448ca4" font-weight="bold" text-anchor="middle" textLength="14.3" lengthAdjust="spacingAndGlyphs" stroke="#448ca4" stroke-width="0.2" stroke-linejoin="round">94</text>
<text x="375.5" y="896.2" font-size="11" fill="#448ca4" font-weight="bold" text-anchor="middle" textLength="14.3" lengthAdjust="spacingAndGlyphs" stroke="#448ca4" stroke-width="0.2" stroke-linejoin="round">38</text>
<text x="533" y="896.2" font-size="11" fill="#448ca4" font-weight="bold" text-anchor="middle" textLength="7.2" lengthAdjust="spacingAndGlyphs" stroke="#448ca4" stroke-width="0.2" stroke-linejoin="round">5</text>
<!-- badges -->
<path d="M125.6 926.4 L258.4 922.7 Q260.5 922.6 260.5 924.8 L260.7 972.2 Q260.7 974.4 258.6 974.3 L129 970.5Z" fill="#1f6fba" stroke="#1f6fba" stroke-width="4.4" stroke-linejoin="round"/>
<path d="M128 926 L258 922.3 Q260.4 922.2 260.5 924.4 L260.7 970.6 Q260.7 972.7 258.4 972.6 L130 969" fill="none" stroke="#e6eef8" stroke-width="1" stroke-dasharray="2.7 1.7"/>
<path d="M103.3 917.6 L131.2 940.6 L128.8 940.6 L128.8 972.2 L78.8 972.2 L78.8 939.2 L77.6 939.2 Z" fill="#f59b1c" stroke="#fad890" stroke-width="1.6" stroke-linejoin="round"/>
<rect x="79" y="972.4" width="49.6" height="1.6" fill="#f6bf6e"/>
<path d="M103.3 965.8 C96 960 88 954.5 88 946.6 C88 941.5 91.6 938.4 95.6 938.4 C98.9 938.4 101.8 940.4 103.3 943.4 C104.8 940.4 107.7 938.4 111 938.4 C115 938.4 118.6 941.5 118.6 946.6 C118.6 954.5 110.6 960 103.3 965.8Z" fill="#ffffff" stroke="#fbe3b0" stroke-width="0.8"/>
<text x="195.2" y="947.3" font-size="20.6" fill="#ffffff" font-weight="bold" text-anchor="middle" textLength="112.5" lengthAdjust="spacingAndGlyphs" font-style="italic" stroke="#ffffff" stroke-width="0.9" stroke-linejoin="round">#Quédate</text>
<text x="195" y="967.1" font-size="21.6" fill="#ffffff" font-weight="bold" text-anchor="middle" textLength="82.5" lengthAdjust="spacingAndGlyphs" font-style="italic" stroke="#ffffff" stroke-width="1.0" stroke-linejoin="round">EnCasa</text>
<rect x="330.3" y="932" width="243.3" height="36.3" rx="6.5" fill="#1d6cb6"/>
<rect x="332.1" y="933.8" width="239.7" height="32.7" rx="5" fill="none" stroke="#4f91cf" stroke-width="0.9"/>
<text x="333.4" y="955.6" font-size="18.4" fill="#ffffff" font-weight="bold" textLength="71.5" lengthAdjust="spacingAndGlyphs" font-style="italic" stroke="#ffffff" stroke-width="0.5" stroke-linejoin="round">#Juntos</text>
<text x="406.6" y="955.6" font-size="18.4" fill="#ffffff" textLength="82.5" lengthAdjust="spacingAndGlyphs" font-style="italic">Saldremos</text>
<text x="491.6" y="955.6" font-size="18.4" fill="#ffffff" font-weight="bold" textLength="78.6" lengthAdjust="spacingAndGlyphs" font-style="italic" stroke="#ffffff" stroke-width="0.5" stroke-linejoin="round">Adelante</text>
<!-- footer -->
<rect x="0" y="989.6" width="644" height="34.4" fill="#16abb9"/>
<rect x="0" y="989.6" width="644" height="2" fill="#239da8"/>
<defs><linearGradient id="qg" x1="0" y1="0" x2="1" y2="1"><stop offset="0" stop-color="#f3e224"/><stop offset="0.45" stop-color="#cfe23a"/><stop offset="1" stop-color="#9ede55"/></linearGradient></defs>
<path d="M138.9 996.6 L149.4 1006.8 L140.3 1016.9 L128.7 1002.9Z" fill="url(#qg)" stroke="url(#qg)" stroke-width="1.6" stroke-linejoin="round"/>
<path d="M137 1003.4 L143.4 1001.6 L146.4 1006.6 L141.6 1011.6 L137.6 1007 L141.4 1004.6 L143.4 1007 L141.6 1008.6" fill="none" stroke="#5d9a25" stroke-width="1.4" stroke-linejoin="round"/>
<text x="159.2" y="1012.4" font-size="13.2" fill="#ffffff" font-weight="bold" textLength="39.8" lengthAdjust="spacingAndGlyphs" stroke="#ffffff" stroke-width="0.7" stroke-linejoin="round">QROO</text>
<text x="199.8" y="1012.4" font-size="13" fill="#ffffff" textLength="77.6" lengthAdjust="spacing" stroke="#ffffff" stroke-width="0.25" stroke-linejoin="round">.gob.mx/sesa</text>
<rect x="299.6" y="1002.2" width="10.4" height="11.8" rx="1.6" fill="#c7e8ee"/>
<text x="304.9" y="1013" font-size="10.5" fill="#16abb9" font-weight="bold" text-anchor="middle">f</text>
<text x="321" y="1007.3" font-size="9.4" fill="#b6e3e9" textLength="87.5" lengthAdjust="spacing">Secretaría de Salud</text>
<text x="332.4" y="1015.2" font-size="9.4" fill="#b6e3e9" textLength="62.2" lengthAdjust="spacing">Quintana Roo</text>
<rect x="428.4" y="1002.2" width="11.2" height="11.8" rx="1.6" fill="#c7e8ee"/>
<path d="M431 1011.2 c2.6 1.2 5.6 0 6 -3.6 l0.9 -0.9 l-1 0.1 c-0.8 -1 -2.4 -0.6 -2.5 0.8 c-1.2 0 -2.2 -0.6 -2.9 -1.4 c-0.4 0.9 -0.2 1.8 0.5 2.4 l-0.8 -0.2 c0 0.9 0.6 1.6 1.4 1.8 c-0.5 0.6 -1 0.9 -1.6 1z" fill="#27a6b7"/>
<text x="447.4" y="1011.4" font-size="9.6" fill="#b6e3e9" textLength="66.5" lengthAdjust="spacingAndGlyphs">@SESA_QROO</text>
<!-- logos -->
<g id="crest"><path d="M464.2 34.6 L466.6 34.2 Q467 26.8 474.2 26.6 Q481.2 26.8 481.6 34.2 L484.2 34.6 L484.2 49.4 Q484.2 52.6 480.6 53 L467.8 53 Q464.2 52.6 464.2 49.4Z" fill="#a68f34"/><path d="M468 34 Q468.4 28.2 474.2 28 Q479.8 28.2 480.2 34Z" fill="#e9a32e"/><path d="M470 33.4 Q470.6 30 474.2 29.8 Q477.6 30 478.2 33.4Z" fill="#c9781f"/><rect x="465.6" y="34.6" width="8.2" height="9" fill="#e2622c"/><rect x="468.6" y="35.6" width="2.6" height="7.4" fill="#f0a93a"/><rect x="474.6" y="34.6" width="8.2" height="9" fill="#3a5ea6"/><path d="M478.7 36.4 l0.7 1.9 l2 0.1 l-1.6 1.2 l0.6 1.9 l-1.7 -1.1 l-1.7 1.1 l0.6 -1.9 l-1.6 -1.2 l2 -0.1z" fill="#eef2f8"/><path d="M465.6 44.2 H482.8 V49.2 Q482.8 51.5 480.4 51.7 L468 51.7 Q465.6 51.5 465.6 49.2Z" fill="#f0d244"/><path d="M465.6 49 H482.8 V49.4 Q482.8 51.5 480.4 51.7 L468 51.7 Q465.6 51.5 465.6 49.4Z" fill="#6f9f33"/><path d="M467.4 49.4 l1.9 -4.6 l1.9 4.6z M472.3 49.4 l1.9 -4.8 l1.9 4.8z M477.2 49.4 l1.9 -4.6 l1.9 4.6z" fill="#4c8a2f"/></g>
<text x="474.2" y="58.9" font-size="5.3" fill="#707070" text-anchor="middle" textLength="42.6" lengthAdjust="spacing">QUINTANA ROO</text>
<path d="M456 61.3 H492" stroke="#b5b5b5" stroke-width="0.5" stroke-dasharray="0.8 0.8"/>
<text x="474" y="65.2" font-size="3.3" fill="#8a8a8a" text-anchor="middle" textLength="17" lengthAdjust="spacingAndGlyphs">2016 - 2022</text>
<g id="tree"><defs><radialGradient id="sung" cx="525" cy="38.5" r="17" gradientUnits="userSpaceOnUse"><stop offset="0" stop-color="#f3e668"/><stop offset="0.55" stop-color="#f6ee9a"/><stop offset="1" stop-color="#ffffff" stop-opacity="0"/></radialGradient></defs><circle cx="525" cy="38.5" r="17" fill="url(#sung)"/><ellipse cx="525" cy="50.2" rx="15.6" ry="4.2" fill="#e0f3f3"/><ellipse cx="525.4" cy="38" rx="11" ry="6.2" fill="#5aa934"/><ellipse cx="525.6" cy="35" rx="7.6" ry="3.9" fill="#66b338"/><ellipse cx="517.4" cy="40.8" rx="2.6" ry="1.8" fill="#a59a33"/><ellipse cx="532.6" cy="40.4" rx="3.6" ry="2.6" fill="#4a9a33"/><path d="M523.8 50.4 L524.2 44.6 L521.4 42.4 L524.6 43.6 L524.9 41 L525.6 43.6 L528.6 42.2 L526.2 44.8 L526.6 50.4Z" fill="#6a4526"/><path d="M524.6 49.2 Q517 45.8 510.2 48.8 Q509.4 51.6 512.6 52.4 Q519.4 53 524.6 50.2 M525.6 49.2 Q533 45.8 539.6 48.8 Q540.6 51.6 537.4 52.4 Q530.6 53 525.6 50.2" fill="none" stroke="#4d9da5" stroke-width="1"/></g>
<text x="525.6" y="58.9" font-size="4" fill="#55a9b3" text-anchor="middle" textLength="35.2" lengthAdjust="spacing">MÁS Y MEJORES</text>
<text x="525.6" y="63.2" font-size="4.1" fill="#2c8aa6" font-weight="bold" text-anchor="middle" textLength="35.8" lengthAdjust="spacingAndGlyphs">OPORTUNIDADES</text>
<defs><linearGradient id="sesag" x1="0" y1="0" x2="0" y2="1"><stop offset="0" stop-color="#27a3b4"/><stop offset="1" stop-color="#2a86bd"/></linearGradient></defs>
<text x="560" y="50.1" font-size="22.3" fill="url(#sesag)" font-weight="bold" textLength="53.6" lengthAdjust="spacingAndGlyphs" stroke="#2895b9" stroke-width="0.5" stroke-linejoin="round">SESA</text>
<text x="553.2" y="57.8" font-size="5.4" fill="#3a3436" font-weight="bold" textLength="67.4" lengthAdjust="spacingAndGlyphs">SERVICIOS ESTATALES DE SALUD</text>
</svg>
</body></html>
